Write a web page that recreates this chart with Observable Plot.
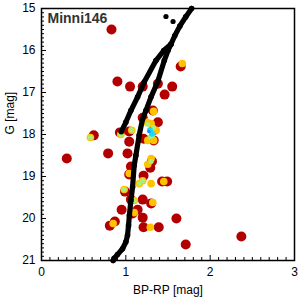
<!DOCTYPE html>
<html><head><meta charset="utf-8">
<script src="https://cdn.jsdelivr.net/npm/d3@7"></script>
<script src="https://cdn.jsdelivr.net/npm/@observablehq/plot@0.6"></script>
<style>body{margin:0;background:#fff}</style>
</head><body><div id="chart"></div>
<script>
const title = "Minni146";
const xLabel = "BP-RP [mag]";
const yLabel = "G [mag]";
const xTicks = [0, 1, 2, 3];
const yTicks = [15, 16, 17, 18, 19, 20, 21];

// isochrone (single-star sequence)
const isoMainBP = [1.78,1.71,1.64,1.58,1.535,1.50,1.456,1.377,1.298,1.238,1.199,1.158,1.119,1.099,1.080,1.060,1.042,1.032,1.020,1.000,0.961,0.901,0.861,0.85];
const isoMainG  = [15.00,15.20,15.42,15.65,15.85,16.00,16.24,16.75,17.11,17.43,17.63,18.02,18.50,18.74,19.25,19.57,19.93,20.17,20.40,20.56,20.72,20.86,20.95,21.0];
// binary sequence
const isoBinBP = [1.535,1.45,1.357,1.218,1.139,1.060,1.000,0.946];
const isoBinG  = [15.85,16.00,16.24,16.75,17.11,17.43,17.71,17.93];
// isolated isochrone points
const isoExtraBP = [1.476,1.56];
const isoExtraG  = [15.19,15.31];

// field / member stars (red)
const redBP = [0.83,0.90,1.05,1.20,1.38,1.55,1.46,1.65,1.20,1.32,1.38,1.33,1.33,1.21,0.62,0.93,1.04,1.04,0.79,1.02,0.30,1.31,1.29,1.06,1.04,1.21,0.99,1.43,1.49,1.06,1.20,1.30,0.95,1.14,1.08,1.20,1.60,0.81,0.87,1.21,1.39,1.71,2.37];
const redG  = [15.50,16.74,16.86,16.86,16.79,16.86,17.05,16.38,17.60,17.43,17.71,17.90,18.14,18.10,18.02,17.95,17.93,18.17,18.45,18.45,18.57,18.64,18.79,18.76,18.95,18.98,19.36,19.12,19.12,19.55,19.55,19.64,19.79,19.79,19.88,19.98,20.00,20.17,20.07,20.21,20.21,20.62,20.43];
// yellow points
const yellowBP = [1.67,0.58,0.94,1.07,1.33,1.30,1.30,1.26,1.20,1.30,1.45,0.98,1.10,1.32,0.85,1.29,1.16,1.04,1.10,1.25,1.36,1.26,1.33];
const yellowG  = [16.31,18.07,18.00,17.90,17.45,17.74,18.57,18.71,19.10,19.17,19.12,19.31,19.57,19.62,20.12,20.21,19.17,18.93,19.86,17.71,17.90,18.14,18.14];
// green points
const greenBP = [0.58,0.94,1.07,1.20,0.98,1.10,1.16,1.30,1.26,1.33,1.29,1.32];
const greenG  = [18.07,18.00,17.90,19.10,19.31,19.57,19.17,18.64,17.76,17.83,18.05,18.02];
// cyan and blue points
const cyanBP = [1.286,1.31];
const cyanG  = [17.90,17.98];
const blueBP = [1.274];
const blueG  = [17.93];

const zip = (a, b) => a.map((v, i) => ({bp: v, g: b[i]}));
const isoMain = zip(isoMainBP, isoMainG);
const isoBin = zip(isoBinBP, isoBinG);
const isoExtra = zip(isoExtraBP, isoExtraG);
const red = zip(redBP, redG);
const yellow = zip(yellowBP, yellowG);
const green = zip(greenBP, greenG);
const cyan = zip(cyanBP, cyanG);
const blue = zip(blueBP, blueG);

const xMinor = d3.range(1, 30).map(i => i / 10).filter(v => !xTicks.includes(v));
const yMinor = d3.range(151, 210).map(i => i / 10).filter(v => !yTicks.includes(v));

const W = 300, H = 300, mL = 41, mR = 6, mT = 8, mB = 40;
const plotW = W - mL - mR, plotH = H - mT - mB;

const chart = Plot.plot({
  width: W, height: H,
  marginLeft: mL, marginRight: mR, marginTop: mT, marginBottom: mB,
  style: {fontFamily: "'Liberation Sans', Arial, sans-serif", fontSize: "12px", color: "black", background: "white", overflow: "visible"},
  x: {domain: [0, 3], label: null},
  y: {domain: [15, 21], reverse: true, label: null},
  marks: [
    Plot.dot(red, {x: "bp", y: "g", r: 5, fill: "#b20000"}),
    Plot.dot(yellow, {x: "bp", y: "g", r: 3.8, fill: "#ffc200"}),
    Plot.dot(green, {x: "bp", y: "g", r: 2.5, fill: "#a8f07c"}),
    Plot.dot(cyan, {x: "bp", y: "g", r: 3, fill: "#19d9ff"}),
    Plot.dot(blue, {x: "bp", y: "g", r: 1.8, fill: "#1a90ff"}),
    Plot.line(isoMain, {x: "bp", y: "g", stroke: "black", strokeWidth: 5.2}),
    Plot.line(isoBin, {x: "bp", y: "g", stroke: "black", strokeWidth: 5.2}),
    Plot.dot(isoMain, {x: "bp", y: "g", r: 2.8, fill: "black"}),
    Plot.dot(isoBin, {x: "bp", y: "g", r: 2.8, fill: "black"}),
    Plot.dot(isoExtra, {x: "bp", y: "g", r: 2.6, fill: "black"}),
    Plot.tickX(xMinor, {x: d => d, insetTop: plotH - 3, stroke: "black"}),
    Plot.tickX(xTicks, {x: d => d, insetTop: plotH - 5, stroke: "black"}),
    Plot.tickY(yMinor, {y: d => d, insetRight: plotW - 3, stroke: "black"}),
    Plot.tickY(yTicks, {y: d => d, insetRight: plotW - 5, stroke: "black"}),
    Plot.axisX({ticks: xTicks, tickFormat: d3.format("d"), tickSize: 0, tickPadding: 7, label: null, fontSize: 12}),
    Plot.axisY({ticks: yTicks, tickFormat: d3.format("d"), tickSize: 0, tickPadding: 6, label: null, fontSize: 12}),
    Plot.frame({stroke: "black", strokeWidth: 1.5}),
    Plot.text([title], {frameAnchor: "top-left", dx: 6, dy: 10.5, text: d => d, fontWeight: "bold", fontSize: 14, fill: "#333", textAnchor: "start", lineAnchor: "middle"}),
    Plot.text([xLabel], {frameAnchor: "bottom", dy: 29.5, text: d => d, fontSize: 12, fill: "black", lineAnchor: "middle"}),
    Plot.text([yLabel], {frameAnchor: "left", dx: -31.5, rotate: -90, text: d => d, fontSize: 12, fill: "black", lineAnchor: "middle"})
  ]
});
document.getElementById("chart").appendChild(chart);
</script>
</body></html>
